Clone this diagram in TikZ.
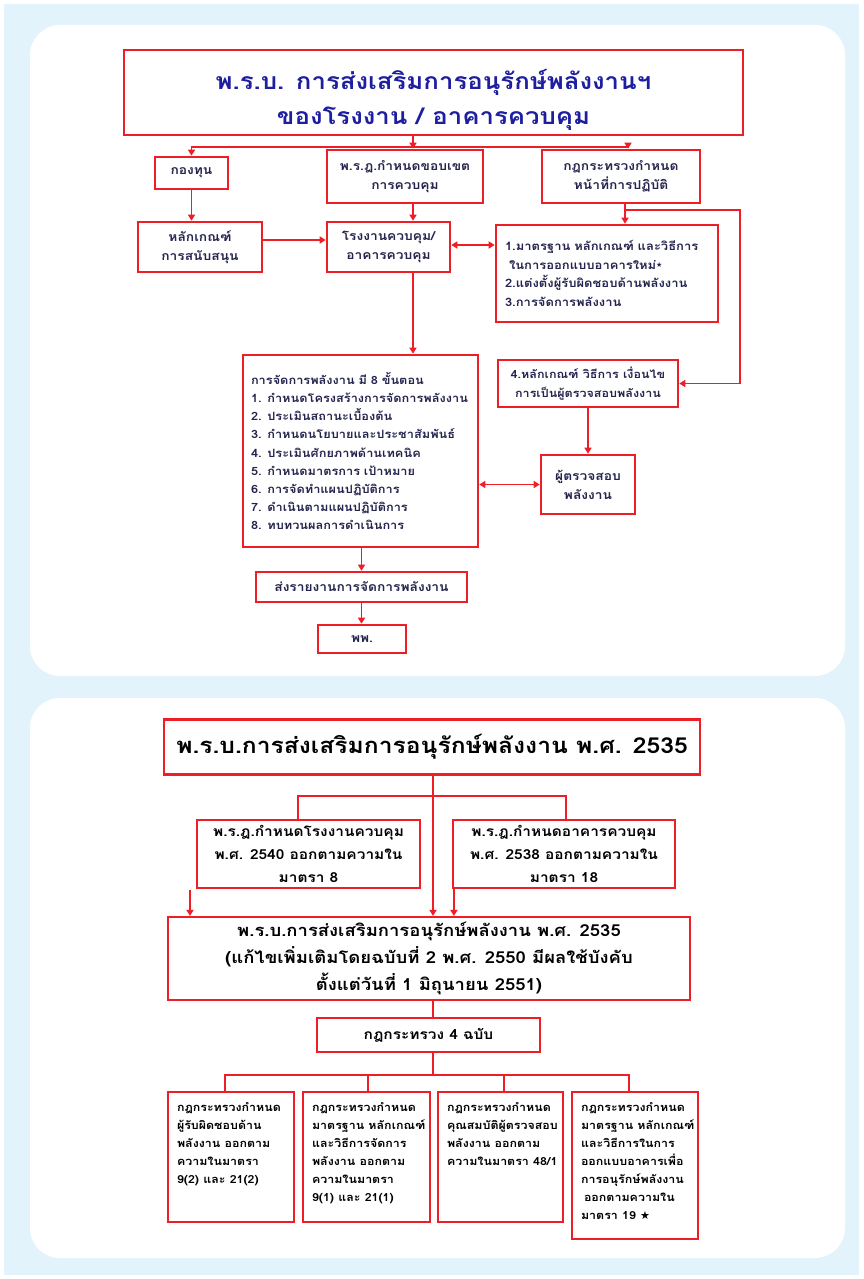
\documentclass[tikz,border=0pt]{standalone}
\usepackage{fontspec}
\newfontfamily\thaifont[Script=Thai,FakeStretch=1.12]{Loma}
\newfontfamily\symfont{DejaVu Sans}
\usetikzlibrary{arrows.meta}

\definecolor{sky}{HTML}{E3F3FC}
\definecolor{boxred}{HTML}{F01C26}
\definecolor{navy}{HTML}{24244E}
\definecolor{titleblue}{HTML}{1E1EA0}

\newcommand{\tstar}{{\symfont\fontsize{7}{7}\selectfont\raisebox{2pt}{★}}}
\newcommand{\bstar}{{\symfont ★}}
% top-aligned, left-set text block filling a box of given width and height
\newcommand{\topblock}[3]{\parbox[c][#2][t]{#1}{\raggedright\leftskip=9pt\vspace*{10pt}#3}}

\begin{document}
\begin{tikzpicture}[x=1pt,y=-1pt,
  rbox/.style={draw=boxred, line width=2.6pt, fill=white, inner sep=0pt, align=center},
  lbox/.style={draw=boxred, line width=2.2pt, fill=white, inner sep=0pt, align=center},
  ttext/.style={text=navy, font=\thaifont\bfseries\fontsize{12.3}{19}\selectfont},
  btext/.style={text=black, font=\thaifont\bfseries\fontsize{13.8}{23}\selectfont},
  arr/.style={draw=boxred, line width=1.8pt, -{Triangle[length=6pt,width=7pt]}},
  darr/.style={draw=boxred, line width=1.8pt, {Triangle[length=6pt,width=7pt]}-{Triangle[length=6pt,width=7pt]}},
  ln/.style={draw=boxred, line width=1.8pt},
]
\useasboundingbox (0,0) rectangle (863,1279);
\fill[white] (0,0) rectangle (863,1279);
\fill[sky] (4,4) rectangle (859,1275);
\fill[white, rounded corners=30pt] (30,25) rectangle (845,676);
\fill[white, rounded corners=30pt] (30,698) rectangle (845,1258);

% ---------- upper chart: energy conservation act for factories / buildings ----------
\node[rbox, minimum width=619pt, minimum height=85pt, text=titleblue,
      font=\thaifont\bfseries\fontsize{23}{35}\selectfont] (t1) at (433.5,92.5)
  {\rule{0pt}{34pt}พ.ร.บ. การส่งเสริมการอนุรักษ์พลังงานฯ\\ของโรงงาน / อาคารควบคุม};

\node[rbox, ttext, minimum width=73pt, minimum height=32pt] (fund) at (191.5,173) {กองทุน};
\node[rbox, ttext, minimum width=156pt, minimum height=53pt] (prd) at (405,176.5)
  {พ.ร.ฎ.กำหนดขอบเขต\\การควบคุม};
\node[rbox, ttext, minimum width=158pt, minimum height=53pt] (rule) at (621,176.5)
  {กฎกระทรวงกำหนด\\หน้าที่การปฏิบัติ};
\node[rbox, ttext, minimum width=124pt, minimum height=50pt] (crit) at (200,247)
  {หลักเกณฑ์\\การสนับสนุน};
\node[rbox, ttext, minimum width=123pt, minimum height=50pt] (ctrl) at (388.5,247)
  {โรงงานควบคุม/\\อาคารควบคุม};
\node[rbox, ttext, font=\thaifont\bfseries\fontsize{11.6}{18.5}\selectfont, align=left,
      text width=204pt, inner xsep=9pt, minimum height=97pt] (std) at (607,273.5)
  {1.มาตรฐาน หลักเกณฑ์ และวิธีการ\\\hspace*{4pt}ในการออกแบบอาคารใหม่\tstar\\2.แต่งตั้งผู้รับผิดชอบด้านพลังงาน\\3.การจัดการพลังงาน};
\node[rbox, ttext, font=\thaifont\bfseries\fontsize{11.4}{18.2}\selectfont, align=left,
      text width=219pt, inner xsep=8pt, minimum height=192pt] (em) at (360.5,451)
  {การจัดการพลังงาน มี 8 ขั้นตอน\\
   1. กำหนดโครงสร้างการจัดการพลังงาน\\
   2. ประเมินสถานะเบื้องต้น\\
   3. กำหนดนโยบายและประชาสัมพันธ์\\
   4. ประเมินศักยภาพด้านเทคนิค\\
   5. กำหนดมาตรการ เป้าหมาย\\
   6. การจัดทำแผนปฏิบัติการ\\
   7. ดำเนินตามแผนปฏิบัติการ\\
   8. ทบทวนผลการดำเนินการ};
\node[rbox, ttext, font=\thaifont\bfseries\fontsize{11.2}{19}\selectfont,
      minimum width=180pt, minimum height=47pt] (aud4) at (588,383.5)
  {4.หลักเกณฑ์ วิธีการ เงื่อนไข\\การเป็นผู้ตรวจสอบพลังงาน};
\node[rbox, ttext, minimum width=94pt, minimum height=59pt] (aud) at (588,484.5)
  {ผู้ตรวจสอบ\\พลังงาน};
\node[rbox, ttext, minimum width=211pt, minimum height=30pt] (rep) at (361.5,587)
  {ส่งรายงานการจัดการพลังงาน};
\node[rbox, ttext, minimum width=88pt, minimum height=28pt] (dede) at (362,639) {พพ.};

% junctions of the upper chart
\coordinate (j1)  at (413,147);
\coordinate (j1l) at (191.5,147);
\coordinate (j1r) at (628,147);
\coordinate (j2)  at (625,210);
\coordinate (j3)  at (740,210);

\draw[ln]  (t1.south -| j1) -- (j1);
\draw[arr] (j1) -- (j1l) -- (fund.north);
\draw[arr] (j1) -- (j1 |- prd.north);
\draw[arr] (j1) -- (j1r) -- (j1r |- rule.north);
\draw[arr] (fund.south) -- (fund.south |- crit.north);
\draw[arr] ([yshift=7pt]crit.east) -- ([yshift=7pt]crit.east -| ctrl.west);
\draw[arr] (prd.south -| j1) -- (j1 |- ctrl.north);
\draw[darr] ([yshift=2pt]ctrl.east) -- ([yshift=2pt]ctrl.east -| std.west);
\draw[ln]  (rule.south -| j2) -- (j2);
\draw[arr] (j2) -- (j2 |- std.north);
\draw[arr] (j2) -- (j3) |- (aud4.east);
\draw[arr] (ctrl.south -| j1) -- (j1 |- em.north);
\draw[arr] (aud4.south) -- (aud.north);
\draw[darr] (aud.west -| em.east) -- (aud.west);
\draw[arr] (em.south -| rep.north) -- (rep.north);
\draw[arr] (rep.south) -- (rep.south |- dede.north);

% ---------- lower chart: the act, its decrees and ministerial regulations ----------
\node[lbox, text=black, font=\thaifont\bfseries\fontsize{22}{30}\selectfont,
      minimum width=536pt, minimum height=55pt] (law) at (432,747)
  {พ.ร.บ.การส่งเสริมการอนุรักษ์พลังงาน พ.ศ. 2535};
\node[lbox, btext, minimum width=223pt, minimum height=68pt] (ldec) at (308.5,854)
  {พ.ร.ฎ.กำหนดโรงงานควบคุม\\พ.ศ. 2540 ออกตามความใน\\มาตรา 8};
\node[lbox, btext, minimum width=222pt, minimum height=68pt] (rdec) at (564,854)
  {พ.ร.ฎ.กำหนดอาคารควบคุม\\พ.ศ. 2538 ออกตามความใน\\มาตรา 18};
\node[lbox, btext, font=\thaifont\bfseries\fontsize{16.5}{27}\selectfont,
      minimum width=522pt, minimum height=83pt] (amend) at (429,958.5)
  {พ.ร.บ.การส่งเสริมการอนุรักษ์พลังงาน พ.ศ. 2535\\
   (แก้ไขเพิ่มเติมโดยฉบับที่ 2 พ.ศ. 2550 มีผลใช้บังคับ\\
   ตั้งแต่วันที่ 1 มิถุนายน 2551)};
\node[lbox, btext, minimum width=223pt, minimum height=34pt] (four) at (428.5,1035)
  {กฎกระทรวง 4 ฉบับ};

\tikzset{small/.style={lbox, text=black, inner sep=0pt,
  font=\thaifont\bfseries\fontsize{11.1}{18}\selectfont}}
\node[small] (b1) at (231,1157)
  {\topblock{126pt}{130pt}{กฎกระทรวงกำหนด\\ผู้รับผิดชอบด้าน\\พลังงาน ออกตาม\\ความในมาตรา\\9(2) และ 21(2)}};
\node[small] (b2) at (366.5,1157)
  {\topblock{127pt}{130pt}{กฎกระทรวงกำหนด\\มาตรฐาน หลักเกณฑ์\\และวิธีการจัดการ\\พลังงาน ออกตาม\\ความในมาตรา\\9(1) และ 21(1)}};
\node[small] (b3) at (500.5,1157)
  {\topblock{125pt}{130pt}{กฎกระทรวงกำหนด\\คุณสมบัติผู้ตรวจสอบ\\พลังงาน ออกตาม\\ความในมาตรา 48/1}};
\node[small] (b4) at (635,1165.5)
  {\topblock{126pt}{147pt}{กฎกระทรวงกำหนด\\มาตรฐาน หลักเกณฑ์\\และวิธีการในการ\\ออกแบบอาคารเพื่อ\\การอนุรักษ์พลังงาน\\\hspace*{3pt}ออกตามความใน\\มาตรา 19 \bstar}};

% junctions of the lower chart
\coordinate (k1)  at (433,796);
\coordinate (k1l) at (298,796);
\coordinate (k1r) at (566,796);
\coordinate (fa)  at (190,890);
\coordinate (k2)  at (433,1075);
\coordinate (k2a) at (225,1075);
\coordinate (k2b) at (368,1075);
\coordinate (k2c) at (504,1075);
\coordinate (k2d) at (629,1075);

\draw[arr] (law.south -| k1) -- (k1 |- amend.north);
\draw[ln]  (k1l |- ldec.north) -- (k1l) -- (k1r) -- (k1r |- rdec.north);
\draw[arr] (fa) -- (fa |- amend.north);
\draw[arr] ([xshift=2pt]rdec.south west) -- ([xshift=2pt]rdec.south west |- amend.north);
\draw[ln]  (amend.south -| k1) -- (k1 |- four.north);
\draw[ln]  (four.south -| k2) -- (k2);
\draw[ln]  (k2a |- b1.north) -- (k2a) -- (k2d) -- (k2d |- b4.north);
\draw[ln]  (k2b) -- (k2b |- b2.north);
\draw[ln]  (k2c) -- (k2c |- b3.north);
\end{tikzpicture}
\end{document}
